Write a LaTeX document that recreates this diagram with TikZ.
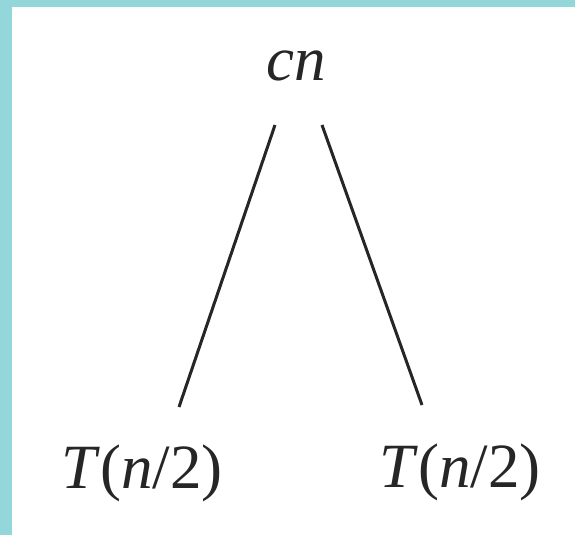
\documentclass[tikz,border=0pt]{standalone}
\usepackage{fontspec}
\setmainfont{Liberation Serif}
\usepackage{xcolor}
\definecolor{framecyan}{HTML}{93D7DA}
\definecolor{inkgray}{HTML}{262626}

\begin{document}
\begin{tikzpicture}[
  x=1pt, y=-1pt,
  term/.style={inner sep=0pt, anchor=base, text=inkgray,
    font=\fontsize{63}{70}\selectfont},
  branch/.style={draw=inkgray, line width=3pt}
]
\useasboundingbox (0,0) rectangle (575,535);
\fill[framecyan] (0,0) rectangle (575,535);
\fill[white] (12,7) rectangle (575,535);

\node[term] (root) at (296,80) {\textit{cn}};
\node[term] (lsub) at (142,488) {\textit{T}(\textit{n}/2)};
\node[term] (rsub) at (460,487) {\textit{T}(\textit{n}/2)};

\draw[branch] ([xshift=-21pt, yshift=-45pt]root.base) -- ([xshift=37pt, yshift=81pt]lsub.base);
\draw[branch] ([xshift=26pt, yshift=-45pt]root.base) -- ([xshift=-38pt, yshift=82pt]rsub.base);
\end{tikzpicture}
\end{document}
